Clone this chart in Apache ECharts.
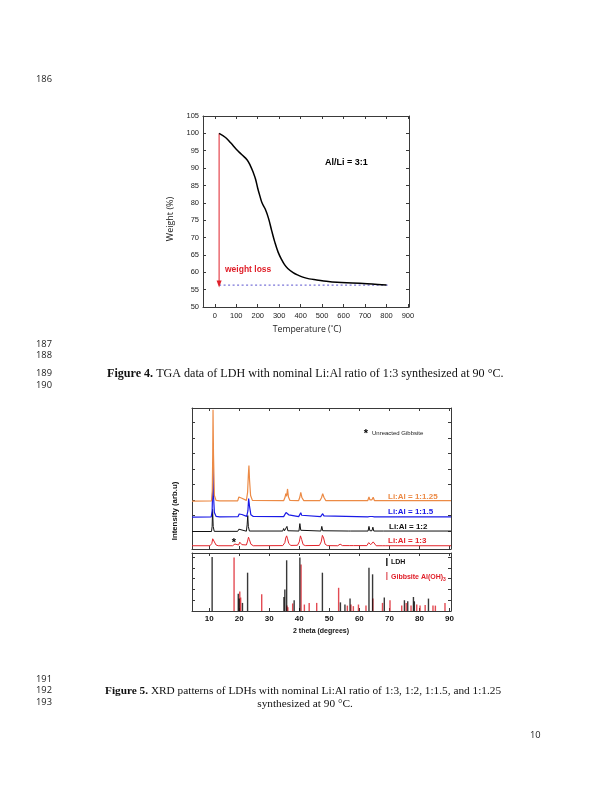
<!DOCTYPE html>
<html><head><meta charset="utf-8">
<script src="https://cdn.jsdelivr.net/npm/echarts@6/dist/echarts.min.js"></script>
<style>html,body{margin:0;padding:0;background:#fff}#c{width:612px;height:792px}</style>
</head><body><div id="c"></div>
<script>
// ---------- TGA data (Figure 4) ----------
const tgaTemp   = [20, 50, 75, 100, 125, 150, 165, 180, 190, 200, 210, 220, 235, 250, 265, 280, 295, 310, 325, 340, 365, 390, 410, 440, 475, 520, 570, 640, 710, 760, 800];
const tgaWeight = [100, 98.8, 97.2, 95.4, 93.9, 92.4, 90.8, 88.6, 86.8, 84.2, 82.0, 80.0, 78.2, 75.6, 72.0, 68.6, 65.8, 63.8, 62.2, 61.1, 59.9, 59.1, 58.6, 58.1, 57.8, 57.4, 57.1, 56.9, 56.7, 56.5, 56.3];
const tgaFinalLevel = [[20, 56.3], [810, 56.3]];
const tgaArrow = [[20, 100], [20, 56.6]];
const tgaXTicks = [0, 100, 200, 300, 400, 500, 600, 700, 800, 900];

// ---------- XRD data (Figure 5), stacked patterns (arb. units) ----------
const xrdRed = [[4.3,0.05],[10.3,0.05],[10.9,0.2],[11.2,0.5],[11.45,0.62],[11.8,0.4],[12.3,0.1],[13,0.05],
 [17.8,0.05],[18.3,0.12],[18.6,0.16],[19.0,0.08],[19.8,0.1],[20.2,0.28],[20.5,0.22],[20.9,0.12],[21.3,0.12],[22.4,0.1],[22.8,0.35],[23.1,0.6],[23.4,0.45],[23.9,0.15],[24.7,0.05],
 [34.5,0.06],[35.2,0.25],[35.5,0.55],[35.8,0.69],[36.1,0.5],[36.5,0.2],[37.2,0.07],
 [39.4,0.08],[40.0,0.3],[40.4,0.69],[40.8,0.45],[41.3,0.12],[42,0.06],
 [46.7,0.07],[47.3,0.3],[47.7,0.72],[48.1,0.55],[48.6,0.15],[49.3,0.06],
 [52.8,0.05],[53.6,0.15],[54.4,0.06],[56.8,0.06],[57.4,0.14],[58.0,0.06],
 [62.5,0.06],[63.1,0.25],[63.4,0.3],[63.8,0.12],[64.2,0.15],[64.6,0.3],[65.0,0.2],[65.6,0.05],
 [67.8,0.05],[68.3,0.1],[68.8,0.05],[90.5,0.05]];
const xrdBlack = [[4.3,0.97],[10.8,0.97],[11.0,1.3],[11.15,2.4],[11.35,1.3],[11.7,0.98],[19.5,0.98],[19.9,1.12],[20.2,1.05],[20.5,1.0],
 [22.4,0.99],[22.65,1.4],[22.85,2.0],[23.05,1.3],[23.4,1.0],[34.5,1.0],[34.8,1.16],[35.1,1.02],[35.6,1.02],[35.9,1.3],[36.2,1.02],
 [39.9,1.0],[40.2,1.48],[40.5,1.05],[40.8,1.0],[47.2,1.0],[47.5,1.3],[47.8,1.02],[56.3,1.0],[56.7,1.06],[57.1,1.0],
 [62.9,1.0],[63.2,1.3],[63.5,1.02],[64.2,1.02],[64.5,1.25],[64.8,1.0],[68,1.0],[68.3,1.05],[68.6,1.0],[90.5,1.0]];
const xrdBlue = [[4.3,1.9],[10.7,1.91],[11.0,2.3],[11.15,3.5],[11.3,5.1],[11.45,3.3],[11.75,2.2],[12.3,1.95],[13.5,1.92],
 [19.6,1.93],[20.0,2.1],[20.2,2.16],[20.5,2.05],[20.9,2.07],[21.3,1.97],[22.5,1.95],[22.9,2.3],[23.15,3.1],[23.45,2.6],[23.9,2.05],[24.7,1.94],
 [34.8,1.93],[35.3,2.05],[35.6,2.2],[35.9,2.12],[36.2,2.3],[36.5,2.05],[37.0,1.94],
 [39.8,1.93],[40.2,2.05],[40.5,2.18],[40.8,2.02],[41.3,1.93],
 [47.1,1.93],[47.5,2.02],[47.8,2.12],[48.2,1.98],[48.8,1.92],
 [62.8,1.92],[63.2,2.0],[63.5,1.94],[64.3,1.94],[64.6,2.0],[65.0,1.92],[90.5,1.92]];
const xrdOrange = [[4.3,2.93],[10.8,2.95],[11.05,3.6],[11.2,6.0],[11.3,8.84],[11.45,6.0],[11.75,3.3],[12.3,2.98],[13.5,2.95],
 [19.5,2.95],[19.9,3.2],[20.1,3.3],[20.5,3.12],[20.9,3.12],[21.3,3.0],[22.4,2.98],[22.8,3.5],[23.05,4.6],[23.25,5.23],[23.45,4.3],[23.8,3.3],[24.4,2.98],
 [34.8,2.96],[35.3,3.2],[35.5,3.42],[35.8,3.25],[36.1,3.72],[36.4,3.2],[36.9,2.98],
 [39.8,2.97],[40.2,3.2],[40.5,3.5],[40.9,3.15],[41.5,2.97],
 [46.9,2.97],[47.4,3.15],[47.8,3.42],[48.2,3.18],[48.8,2.97],
 [53.4,2.97],[53.8,3.02],[54.2,2.97],[57.1,2.97],[57.5,3.02],[57.9,2.97],
 [62.8,2.97],[63.2,3.2],[63.5,3.02],[64.2,3.02],[64.6,3.18],[65.0,2.97],[90.5,2.97]];
// Reference sticks (relative intensity %)
const ldhSticks = [[11.0,100],[19.7,32],[20.0,23],[21.1,15],[22.8,71],[34.9,26],[35.2,40],[35.8,94],[38.3,20],[40.2,99],[47.7,71],[53.7,16],[55.2,12],[56.9,23],[63.2,80],[64.4,68],[68.3,25],[75.0,20],[76.1,18],[78.0,26],[78.3,18],[83.0,23]];
const gibbsiteSticks = [[18.3,99],[20.2,36],[20.5,25],[27.5,31],[35.9,10],[36.2,7],[37.8,14],[40.6,86],[41.7,12],[43.3,15],[45.8,15],[53.1,43],[56.0,10],[57.2,12],[58.0,9],[59.7,12],[62.2,10],[64.5,23],[67.7,15],[70.2,20],[74.1,10],[75.6,15],[77.2,10],[79.1,12],[80.2,10],[81.9,11],[84.5,10],[85.3,10],[88.5,15]];
const xrdXTicks = [10, 20, 30, 40, 50, 60, 70, 80, 90];
const xrdYTicks = [1, 2, 3, 4, 5, 6, 7, 8];

const chart = echarts.init(document.getElementById('c'), null, {renderer: 'canvas'});
const axCol = '#3a3a3a';
const lineNumFont = '9.3px "Open Sans"';
function frameX(grid, min, max, pos, ticks, labels) {
  return {gridIndex: grid, type: 'value', min: min, max: max, position: pos,
    axisLine: {show: true, onZero: false, lineStyle: {color: axCol, width: 1}},
    axisTick: {show: true, inside: true, length: 3, customValues: ticks, lineStyle: {color: axCol}},
    axisLabel: labels ? labels : {show: false}, splitLine: {show: false}};
}
function frameY(grid, min, max, pos, opts) {
  return Object.assign({gridIndex: grid, type: 'value', min: min, max: max, position: pos,
    axisLine: {show: true, onZero: false, lineStyle: {color: axCol, width: 1}},
    axisTick: {show: true, inside: true, length: 3, lineStyle: {color: axCol}},
    axisLabel: {show: false}, splitLine: {show: false}}, opts || {});
}

const option = {
  backgroundColor: '#fff',
  animation: false,
  grid: [
    {left: 203, top: 116, width: 206, height: 191},
    {left: 192, top: 408, width: 259, height: 141},
    {left: 192, top: 553, width: 259, height: 58}
  ],
  xAxis: [
    frameX(0, -55, 905, 'bottom', tgaXTicks, {show: true, customValues: tgaXTicks, fontSize: 7.5, color: '#222', fontFamily: 'Liberation Sans', margin: 5}),
    frameX(0, -55, 905, 'top', tgaXTicks),
    frameX(1, 4.3, 90.5, 'bottom', xrdXTicks),
    frameX(1, 4.3, 90.5, 'top', xrdXTicks),
    frameX(2, 4.3, 90.5, 'bottom', xrdXTicks, {show: true, customValues: xrdXTicks, fontSize: 8, fontWeight: 'bold', color: '#111', fontFamily: 'Liberation Sans', margin: 4}),
    frameX(2, 4.3, 90.5, 'top', xrdXTicks)
  ],
  yAxis: [
    frameY(0, 50, 105, 'left', {interval: 5, axisLabel: {show: true, fontSize: 7.5, color: '#222', fontFamily: 'Liberation Sans', margin: 4}}),
    frameY(0, 50, 105, 'right', {interval: 5}),
    frameY(1, -0.16, 8.95, 'left', {axisTick: {show: true, inside: true, length: 3, customValues: xrdYTicks, lineStyle: {color: axCol}}}),
    frameY(1, -0.16, 8.95, 'right', {axisTick: {show: true, inside: true, length: 3, customValues: xrdYTicks, lineStyle: {color: axCol}}}),
    frameY(2, 0, 107.5, 'left', {interval: 20}),
    frameY(2, 0, 107.5, 'right', {interval: 20})
  ],
  series: [
    {type: 'line', xAxisIndex: 0, yAxisIndex: 0, data: tgaTemp.map((t, i) => [t, tgaWeight[i]]), smooth: 0.4, showSymbol: false, lineStyle: {color: '#000', width: 1.5}, z: 5},
    {type: 'line', xAxisIndex: 0, yAxisIndex: 0, data: tgaFinalLevel, showSymbol: false, lineStyle: {color: '#7a74d8', width: 1.2, type: [2, 2.5]}, z: 3},
    {type: 'line', xAxisIndex: 0, yAxisIndex: 0, data: tgaArrow, showSymbol: false, lineStyle: {color: '#e0202a', width: 1}, z: 4,
      markPoint: {symbol: 'triangle', symbolSize: [5, 7], symbolRotate: 180, symbolOffset: [0, 0], label: {show: false}, itemStyle: {color: '#e0202a'}, data: [{coord: tgaArrow[1]}]}},
    {type: 'line', xAxisIndex: 2, yAxisIndex: 2, data: xrdRed, showSymbol: false, lineStyle: {color: '#e3242b', width: 1}},
    {type: 'line', xAxisIndex: 2, yAxisIndex: 2, data: xrdBlack, showSymbol: false, lineStyle: {color: '#111', width: 1}},
    {type: 'line', xAxisIndex: 2, yAxisIndex: 2, data: xrdBlue, showSymbol: false, lineStyle: {color: '#1a1ae6', width: 1.2}},
    {type: 'line', xAxisIndex: 2, yAxisIndex: 2, data: xrdOrange, showSymbol: false, lineStyle: {color: '#ec8a45', width: 1.2}},
    {type: 'bar', xAxisIndex: 4, yAxisIndex: 4, data: gibbsiteSticks, barWidth: 1.4, barGap: '-100%', itemStyle: {color: 'rgba(220,30,40,0.8)'}},
    {type: 'bar', xAxisIndex: 4, yAxisIndex: 4, data: ldhSticks, barWidth: 1.4, barGap: '-100%', itemStyle: {color: 'rgba(0,0,0,0.78)'}}
  ],
  graphic: [
    // page line numbers
    {type: 'text', left: 36, top: 75, style: {text: '186', font: lineNumFont, fill: '#222'}},
    {type: 'text', left: 36, top: 340, style: {text: '187', font: lineNumFont, fill: '#222'}},
    {type: 'text', left: 36, top: 351, style: {text: '188', font: lineNumFont, fill: '#222'}},
    {type: 'text', left: 36, top: 369, style: {text: '189', font: lineNumFont, fill: '#222'}},
    {type: 'text', left: 36, top: 381, style: {text: '190', font: lineNumFont, fill: '#222'}},
    {type: 'text', left: 36, top: 675, style: {text: '191', font: lineNumFont, fill: '#222'}},
    {type: 'text', left: 36, top: 686, style: {text: '192', font: lineNumFont, fill: '#222'}},
    {type: 'text', left: 36, top: 698, style: {text: '193', font: lineNumFont, fill: '#222'}},
    {type: 'text', left: 530, top: 731, style: {text: '10', font: lineNumFont, fill: '#222'}},
    // captions
    {type: 'text', left: 107, top: 368, style: {text: '{b|Figure 4.} TGA data of LDH with nominal Li:Al ratio of 1:3 synthesized at 90 °C.',
      rich: {b: {fontWeight: 'bold', fontFamily: 'Liberation Serif', fontSize: 12.1}}, fontFamily: 'Liberation Serif', fontSize: 12.1, fill: '#111'}},
    {type: 'text', left: 105, top: 686, style: {text: '{b|Figure 5.} XRD patterns of LDHs with nominal Li:Al ratio of 1:3, 1:2, 1:1.5, and 1:1.25',
      rich: {b: {fontWeight: 'bold', fontFamily: 'Liberation Serif', fontSize: 11.3}}, fontFamily: 'Liberation Serif', fontSize: 11.3, fill: '#111'}},
    {type: 'text', x: 305, y: 704, style: {text: 'synthesized at 90 °C.', font: '11.3px "Liberation Serif"', fill: '#111', align: 'center', verticalAlign: 'middle'}},
    // TGA annotations
    {type: 'text', x: 170, y: 219, rotation: Math.PI / 2, style: {text: 'Weight (%)', font: '9px "Open Sans"', fill: '#222', align: 'center', verticalAlign: 'middle'}},
    {type: 'text', x: 307, y: 330, style: {text: 'Temperature (˚C)', font: '8.7px "Open Sans"', fill: '#222', align: 'center', verticalAlign: 'middle'}},
    {type: 'text', x: 325, y: 163, style: {text: 'Al/Li = 3:1', font: 'bold 9px "Liberation Sans"', fill: '#000', verticalAlign: 'middle'}},
    {type: 'text', x: 225, y: 270, style: {text: 'weight loss', font: 'bold 8.5px "Liberation Sans"', fill: '#e0202a', verticalAlign: 'middle'}},
    // XRD annotations
    {type: 'text', x: 175, y: 511, rotation: Math.PI / 2, style: {text: 'Intensity (arb.u)', font: 'bold 7.8px "Liberation Sans"', fill: '#111', align: 'center', verticalAlign: 'middle'}},
    {type: 'text', x: 321, y: 631, style: {text: '2 theta (degrees)', font: 'bold 7px "Liberation Sans"', fill: '#111', align: 'center', verticalAlign: 'middle'}},
    {type: 'text', x: 366, y: 434, style: {text: '*', font: 'bold 11px "Liberation Sans"', fill: '#000', align: 'center', verticalAlign: 'middle'}},
    {type: 'text', x: 372, y: 433, style: {text: 'Unreacted Gibbsite', font: '6px "Liberation Sans"', fill: '#222', verticalAlign: 'middle'}},
    {type: 'text', x: 234, y: 543, style: {text: '*', font: 'bold 11px "Liberation Sans"', fill: '#000', align: 'center', verticalAlign: 'middle'}},
    {type: 'text', x: 388, y: 497, style: {text: 'Li:Al = 1:1.25', font: 'bold 8px "Liberation Sans"', fill: '#ec8a45', verticalAlign: 'middle'}},
    {type: 'text', x: 388, y: 512, style: {text: 'Li:Al = 1:1.5', font: 'bold 8px "Liberation Sans"', fill: '#1a1ae6', verticalAlign: 'middle'}},
    {type: 'text', x: 389, y: 527, style: {text: 'Li:Al = 1:2', font: 'bold 8px "Liberation Sans"', fill: '#111', verticalAlign: 'middle'}},
    {type: 'text', x: 388, y: 541, style: {text: 'Li:Al = 1:3', font: 'bold 8px "Liberation Sans"', fill: '#e3242b', verticalAlign: 'middle'}},
    {type: 'rect', shape: {x: 386, y: 558, width: 1.6, height: 8}, style: {fill: '#333'}},
    {type: 'text', x: 391, y: 562, style: {text: 'LDH', font: 'bold 7px "Liberation Sans"', fill: '#111', verticalAlign: 'middle'}},
    {type: 'rect', shape: {x: 386, y: 572, width: 1.6, height: 8}, style: {fill: '#e67a80'}},
    {type: 'text', x: 391, y: 577, style: {text: 'Gibbsite Al(OH){s|3}', rich: {s: {fontSize: 5, fontWeight: 'bold', fill: '#e0202a', padding: [6, 0, 0, 0]}}, font: 'bold 7px "Liberation Sans"', fill: '#e0202a', verticalAlign: 'middle'}}
  ]
};
chart.setOption(option);
</script></body></html>
